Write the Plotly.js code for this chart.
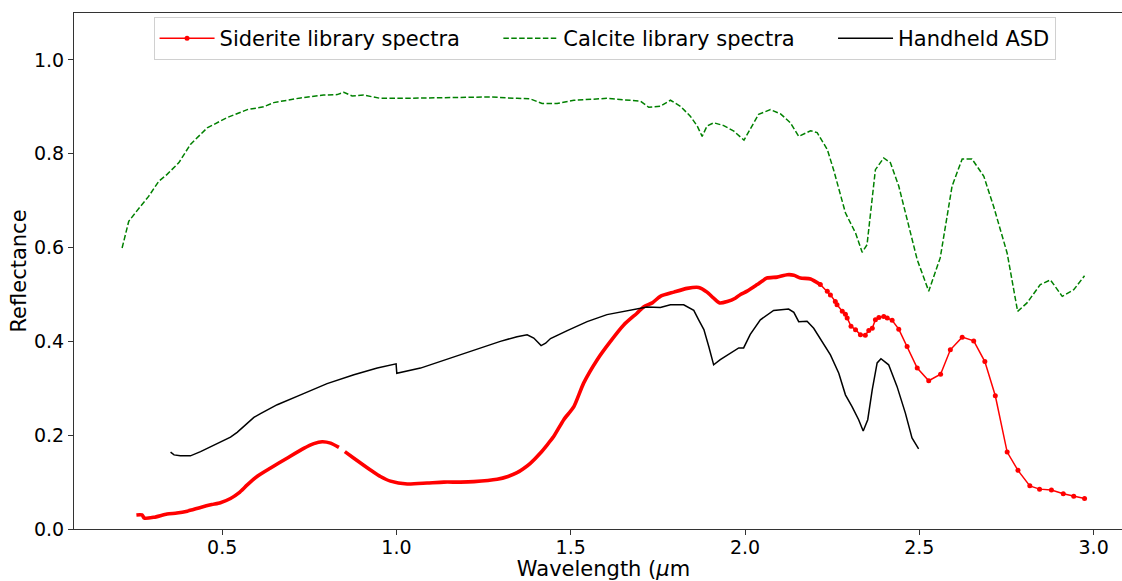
<!DOCTYPE html>
<html>
<head>
<meta charset="utf-8">
<script src="https://cdn.plot.ly/plotly-3.0.1.min.js"></script>
<style>
  html, body { margin: 0; padding: 0; overflow: hidden; background: #fff; }
  #chart { width: 1134px; height: 581px; }
</style>
</head>
<body>
<div id="chart"></div>
<script>
// Siderite library spectra — densely sampled part (drawn as a thick line)
const sideriteDenseX = [0.254,0.270,0.277,0.304,0.342,0.370,0.400,0.438,0.470,0.495,0.524,0.548,0.572,0.600,0.639,0.686,0.734,0.763,0.787,0.811,0.835,null,
  0.852,0.878,0.906,0.935,0.954,0.983,1.031,1.088,1.136,1.184,1.222,1.289,1.320,1.346,1.365,1.384,1.413,1.432,1.451,1.480,1.509,1.537,1.576,1.614,1.652,1.690,1.710,1.734,1.757,1.796,1.834,1.867,1.891,1.910,1.927,1.949,1.972,1.987,2.006,2.035,2.063,2.092,2.121,2.140,2.159,2.188,2.216];
const sideriteDenseY = [0.030,0.030,0.023,0.025,0.032,0.034,0.038,0.046,0.052,0.056,0.065,0.077,0.094,0.112,0.130,0.151,0.172,0.182,0.186,0.183,0.174,null,
  0.165,0.151,0.136,0.121,0.112,0.102,0.096,0.098,0.100,0.100,0.101,0.106,0.112,0.120,0.129,0.140,0.162,0.179,0.197,0.233,0.261,0.311,0.361,0.400,0.435,0.460,0.474,0.482,0.496,0.505,0.513,0.515,0.505,0.492,0.482,0.485,0.492,0.500,0.507,0.521,0.535,0.537,0.542,0.541,0.535,0.533,0.521];

// Siderite library spectra — sparsely sampled part (line with point markers)
const sideriteSparseX = [2.216,2.236,2.245,2.259,2.264,2.279,2.288,2.293,2.304,2.317,2.331,2.345,2.355,2.365,2.374,2.384,2.398,2.408,2.422,2.441,2.465,2.494,2.527,2.561,2.589,2.623,2.656,2.688,2.718,2.752,2.783,2.817,2.845,2.879,2.913,2.943,2.974];
const sideriteSparseY = [0.521,0.507,0.499,0.485,0.478,0.464,0.458,0.450,0.432,0.425,0.414,0.413,0.423,0.428,0.446,0.451,0.453,0.450,0.445,0.426,0.389,0.343,0.316,0.330,0.382,0.409,0.401,0.357,0.284,0.164,0.125,0.092,0.085,0.083,0.075,0.070,0.065];

// Calcite library spectra
const calciteX = [0.213,0.232,0.266,0.289,0.318,0.342,0.376,0.409,0.457,0.514,0.572,0.619,0.648,0.725,0.791,0.830,0.849,0.873,0.906,0.954,1.011,1.088,1.184,1.270,1.346,1.384,1.418,1.461,1.509,1.604,1.700,1.724,1.757,1.786,1.815,1.843,1.863,1.877,1.891,1.910,1.939,1.968,1.997,2.016,2.039,2.073,2.102,2.130,2.154,2.188,2.207,2.236,2.254,2.288,2.317,2.336,2.350,2.374,2.398,2.417,2.441,2.465,2.494,2.527,2.560,2.594,2.623,2.651,2.685,2.713,2.752,2.782,2.809,2.847,2.876,2.910,2.943,2.974];
const calciteY = [0.599,0.656,0.688,0.709,0.741,0.756,0.781,0.820,0.855,0.877,0.894,0.900,0.909,0.919,0.925,0.926,0.931,0.923,0.925,0.918,0.918,0.919,0.919,0.921,0.918,0.917,0.907,0.907,0.914,0.918,0.912,0.899,0.901,0.914,0.901,0.880,0.859,0.837,0.859,0.866,0.860,0.848,0.829,0.855,0.884,0.894,0.885,0.866,0.837,0.849,0.845,0.809,0.766,0.674,0.631,0.590,0.606,0.766,0.791,0.781,0.731,0.660,0.574,0.507,0.578,0.731,0.789,0.789,0.752,0.688,0.588,0.464,0.482,0.521,0.531,0.496,0.510,0.540];

// Handheld ASD
const asdX = [0.352,0.362,0.380,0.409,0.438,0.457,0.476,0.505,0.524,0.543,0.560,0.572,0.591,0.610,0.658,0.725,0.801,0.878,0.945,0.999,1.001,1.069,1.136,1.184,1.241,1.298,1.346,1.375,1.394,1.415,1.428,1.442,1.490,1.547,1.604,1.671,1.719,1.757,1.786,1.824,1.853,1.867,1.882,1.896,1.910,1.929,1.958,1.982,1.996,2.015,2.044,2.082,2.125,2.140,2.154,2.178,2.197,2.216,2.245,2.269,2.288,2.307,2.326,2.339,2.352,2.365,2.379,2.390,2.412,2.436,2.460,2.479,2.490,2.498];
const asdY = [0.164,0.158,0.156,0.156,0.165,0.172,0.179,0.188,0.196,0.206,0.218,0.226,0.238,0.246,0.265,0.286,0.310,0.329,0.343,0.352,0.332,0.343,0.360,0.371,0.386,0.400,0.410,0.414,0.407,0.391,0.396,0.406,0.423,0.442,0.457,0.467,0.473,0.472,0.478,0.478,0.466,0.446,0.425,0.389,0.350,0.361,0.374,0.386,0.386,0.415,0.446,0.466,0.469,0.462,0.442,0.443,0.428,0.405,0.371,0.332,0.286,0.261,0.233,0.209,0.233,0.297,0.354,0.363,0.350,0.304,0.247,0.194,0.180,0.171];

const seriesNames = ['Siderite library spectra', 'Calcite library spectra', 'Handheld ASD'];
const xTitle = 'Wavelength (<i>μ</i>m';
const yTitle = 'Reflectance';

const FONT = 'DejaVu Sans, Verdana, sans-serif';
// non-breaking padding that widens the gap between legend entries
const PAD = '\u00A0\u00A0\u00A0\u00A0\u00A0';

const traces = [
  {
    x: sideriteSparseX, y: sideriteSparseY, type: 'scatter', mode: 'lines+markers',
    name: seriesNames[0] + PAD,
    line: { color: '#ff0000', width: 1.5 },
    marker: { color: '#ff0000', size: 5 }
  },
  {
    x: sideriteDenseX, y: sideriteDenseY, type: 'scatter', mode: 'lines',
    name: seriesNames[0], showlegend: false, connectgaps: false,
    line: { color: '#ff0000', width: 3.6, shape: 'spline', smoothing: 0.6 }
  },
  {
    x: calciteX, y: calciteY, type: 'scatter', mode: 'lines',
    name: seriesNames[1] + PAD,
    line: { color: '#008000', width: 1.5, dash: '5.5px,2.4px' }
  },
  {
    x: asdX, y: asdY, type: 'scatter', mode: 'lines',
    name: seriesNames[2],
    line: { color: '#000000', width: 1.5 }
  }
];

const layout = {
  width: 1134, height: 581,
  margin: { l: 74, r: 1, t: 13, b: 52, pad: 0 },
  paper_bgcolor: '#ffffff', plot_bgcolor: '#ffffff',
  font: { family: FONT, size: 19, color: '#000000' },
  showlegend: true,
  legend: {
    orientation: 'h', x: 0.501, xanchor: 'center', y: 0.992, yanchor: 'top',
    bgcolor: '#ffffff', bordercolor: '#d0d0d0', borderwidth: 1,
    font: { family: FONT, size: 21, color: '#000000' },
    itemwidth: 55
  },
  xaxis: {
    range: [0.075, 3.113], tickmode: 'array',
    tickvals: [0.5, 1.0, 1.5, 2.0, 2.5, 3.0], ticktext: ['0.5','1.0','1.5','2.0','2.5','3.0'],
    ticks: 'outside', ticklen: 5, tickwidth: 1, tickcolor: '#333',
    ticklabelstandoff: -4,
    showline: true, linecolor: '#333', linewidth: 1, mirror: true,
    showgrid: false, zeroline: false,
    tickfont: { family: FONT, size: 19, color: '#000' },
    title: { text: xTitle, font: { family: FONT, size: 21, color: '#000' }, standoff: 4 }
  },
  yaxis: {
    range: [0, 1.1], tickmode: 'array',
    tickvals: [0, 0.2, 0.4, 0.6, 0.8, 1.0], ticktext: ['0.0','0.2','0.4','0.6','0.8','1.0'],
    ticks: 'outside', ticklen: 5, tickwidth: 1, tickcolor: '#333',
    showline: true, linecolor: '#333', linewidth: 1, mirror: true,
    showgrid: false, zeroline: false,
    tickfont: { family: FONT, size: 19, color: '#000' },
    title: { text: yTitle, font: { family: FONT, size: 21, color: '#000' }, standoff: 1 }
  }
};

Plotly.newPlot('chart', traces, layout, { displayModeBar: false, staticPlot: true });
</script>
</body>
</html>
